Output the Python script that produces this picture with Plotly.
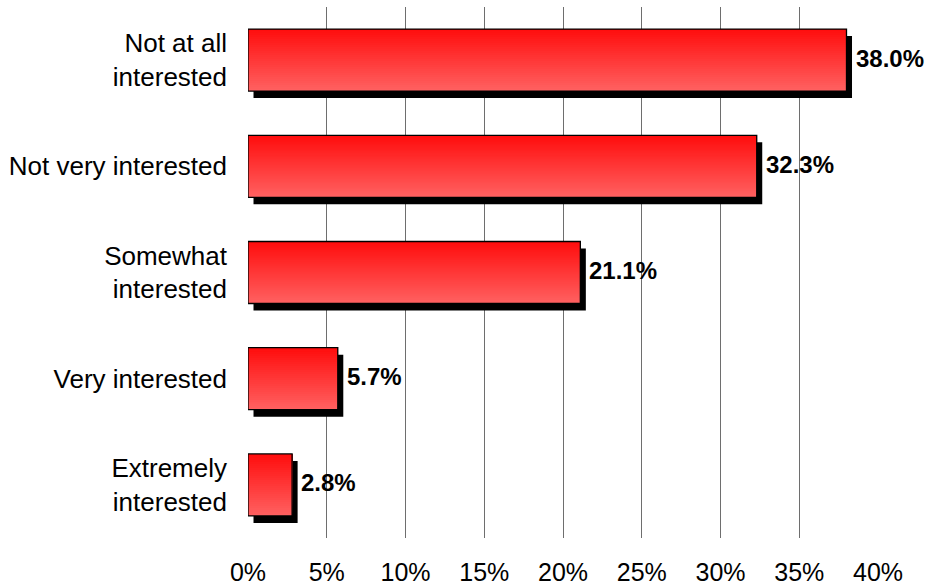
import plotly.graph_objects as go

categories = ["Extremely<br>interested", "Very interested", "Somewhat<br>interested",
              "Not very interested", "Not at all<br>interested"]
values = [2.8, 5.7, 21.1, 32.3, 38.0]
tick_vals = [0, 5, 10, 15, 20, 25, 30, 35, 40]
tick_text = ["0%", "5%", "10%", "15%", "20%", "25%", "30%", "35%", "40%"]

FONT = "Liberation Sans, Arial, sans-serif"
W = 0.584          # bar thickness in category units
N = 31             # gradient slices
top_rgb = (255, 14, 14)
bot_rgb = (255, 96, 96)

fig = go.Figure()

# shadow
fig.add_trace(go.Bar(
    y=categories, x=values, base=0.35, orientation="h",
    width=W, offset=-W / 2 - 0.066,
    marker=dict(color="black", line=dict(width=0)),
    hoverinfo="skip", showlegend=False))

# gradient slices (bottom light -> top dark); each slice reaches the top so no gaps
for i in range(N):
    t = i / (N - 1)
    c = tuple(round(bot_rgb[k] + (top_rgb[k] - bot_rgb[k]) * t) for k in range(3))
    fig.add_trace(go.Bar(
        y=categories, x=values, orientation="h",
        width=W - i * W / N, offset=-W / 2 + i * W / N,
        marker=dict(color="rgb(%d,%d,%d)" % c, line=dict(width=0)),
        hoverinfo="skip", showlegend=False))

# outline
fig.add_trace(go.Bar(
    y=categories, x=values, orientation="h",
    width=W, offset=-W / 2,
    marker=dict(color="rgba(0,0,0,0)", line=dict(color="black", width=1.3)),
    hoverinfo="skip", showlegend=False))

for c, v in zip(categories, values):
    fig.add_annotation(x=v, y=c, text="%.1f%%" % v, showarrow=False,
                       xanchor="left", yanchor="middle", xshift=7, yshift=2,
                       font=dict(family=FONT, size=24, color="black", weight="bold"))

fig.update_layout(
    width=927, height=587,
    margin=dict(l=248, r=49, t=7, b=49),
    barmode="overlay",
    plot_bgcolor="white", paper_bgcolor="white",
    font=dict(family=FONT, size=25, color="black"),
    xaxis=dict(range=[0, 40], tickvals=tick_vals, ticktext=tick_text,
               showgrid=True, gridcolor="#6e6e6e", gridwidth=1,
               zeroline=False, showline=False, ticks="", automargin=False,
               ticklabelstandoff=17, tickfont=dict(size=25)),
    yaxis=dict(categoryorder="array", categoryarray=categories,
               range=[-0.5, 4.5], showgrid=False, zeroline=False,
               showline=False, ticks="", automargin=False, ticklabelstandoff=20,
               tickfont=dict(size=26)),
)

fig.write_html("out.html")
